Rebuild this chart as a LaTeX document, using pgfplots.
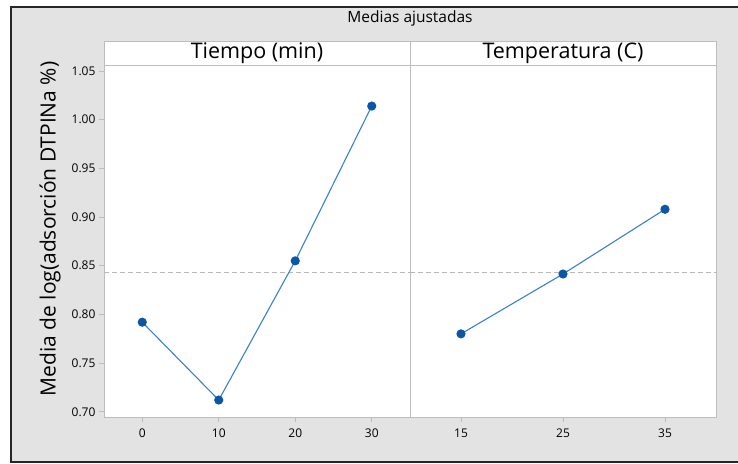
\documentclass[border=0pt]{standalone}
\usepackage{pgfplots}
\pgfplotsset{compat=1.18}
\usepackage{fontspec}
\setmainfont{Open Sans}
\definecolor{bg}{HTML}{E3E3E3}
\definecolor{frameg}{HTML}{BDBDBD}
\definecolor{mk}{HTML}{0B56A6}
\definecolor{ln}{HTML}{3A82CC}
\definecolor{meang}{HTML}{B8B8B8}
\pgfplotsset{
  panel/.style={
    scale only axis, width=306pt, height=352pt,
    ymin=0.6946, ymax=1.0562,
    axis background/.style={fill=white},
    axis line style={frameg, line width=0.9pt},
    tick style={frameg, line width=0.8pt},
    tick pos=left, tick align=outside,
    major tick length=5pt,
    /pgf/number format/assume math mode=true,
    ticklabel style={font=\fontsize{12}{14}\selectfont, text=black},
    xticklabel style={yshift=-3pt},
    ytick={0.70,0.75,0.80,0.85,0.90,0.95,1.00,1.05},
    yticklabel style={/pgf/number format/.cd, fixed, fixed zerofill, precision=2},
    clip=false,
  },
  ser/.style={ln, line width=1.1pt, mark=*, mark size=4pt, mark options={fill=mk, draw=mk}},
  meanl/.style={meang, line width=1.1pt, dash pattern=on 5pt off 3pt},
}
\begin{document}
\begin{tikzpicture}[x=1pt,y=1pt]
\path[use as bounding box] (0,0) rectangle (738,463);
\fill[bg] (11,1) rectangle (738,456);
\draw[black!85, line width=1.6pt] (738,1) -- (11,1) -- (11,456) -- (738,456);
\node[font=\fontsize{15.5}{18}\selectfont] at (410,445) {Medias ajustadas};
\draw[frameg, line width=0.9pt, fill=white] (104,398) rectangle (410,422);
\draw[frameg, line width=0.9pt, fill=white] (410,398) rectangle (716,422);
\node[font=\fontsize{21.5}{25}\selectfont] at (257,410) {Tiempo (min)};
\node[font=\fontsize{21.5}{25}\selectfont] at (563,410) {Temperatura (C)};
\node[rotate=90, font=\fontsize{21}{25}\selectfont] at (50,234) {Media de log(adsorción DTPINa \%)};
\begin{axis}[panel, at={(104pt,46pt)}, anchor=south west,
  xmin=-5, xmax=35, xtick={0,10,20,30}]
  \addplot[meanl] coordinates {(-5,0.8435) (35,0.8435)};
  \addplot[ser] coordinates {(0,0.792) (10,0.712) (20,0.855) (30,1.014)};
\end{axis}
\begin{axis}[panel, at={(410pt,46pt)}, anchor=south west,
  xmin=10, xmax=40, xtick={15,25,35}, ytick=\empty]
  \addplot[meanl] coordinates {(10,0.8435) (40,0.8435)};
  \addplot[ser] coordinates {(15,0.780) (25,0.8415) (35,0.908)};
\end{axis}
\end{tikzpicture}
\end{document}
